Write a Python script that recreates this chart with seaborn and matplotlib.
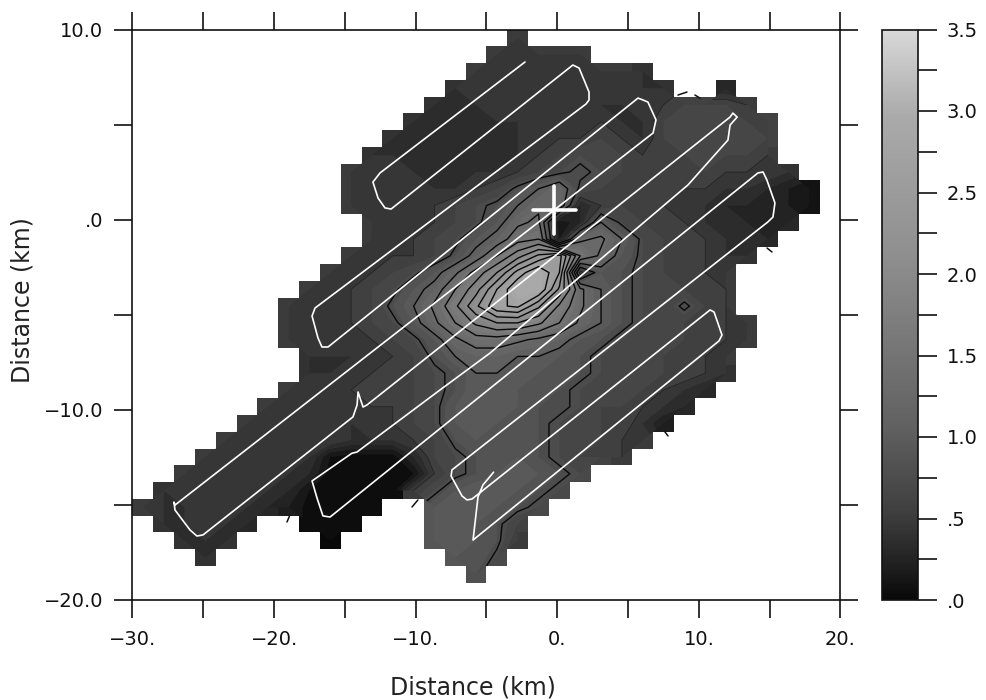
import numpy as np
import pandas as pd
import seaborn as sns
import matplotlib
matplotlib.use("Agg")
import matplotlib.pyplot as plt
from matplotlib.colors import LinearSegmentedColormap

N = None
# start column of each row of the 34 x 34 grid (row 0 at the top)
row_starts = [18, 17, 16, 15, 14, 13, 12, 11, 10, 10, 10, 11, 11, 10, 9, 8, 7, 7, 7, 8, 8, 7, 6, 5, 4, 3, 2, 1, 0, 1, 2, 3, 16]
r00 = [.5]
r01 = [.5, .5, .5, .5, .5]
r02 = [.5, .5, .5, .5, .5, .5, .5, .5, .4]
r03 = [.4, .5, .5, .5, .5, .5, .5, .5, .5, .4, .4, N, N, .3]
r04 = [.4, .4, .4, .5, .5, .5, .5, .4, .4, .4, .5, .5, .6, .6, .6, .5]
r05 = [.4, .4, .4, .4, .4, .4, .5, .5, .5, .5, .4, .4, .6, .7, .7, .7, .6, .6]
r06 = [.4, .4, .4, .4, .4, .4, .4, .5, .5, .5, .6, .5, .4, .6, .7, .7, .7, .7, .6]
r07 = [.4, .4, .4, .4, .4, .4, .4, .4, .5, .6, .7, .7, .6, .5, .6, .6, .7, .6, .6, .5]
r08 = [.5, .5, .5, .4, .4, .4, .4, .4, .5, .6, .7, .8, .7, .6, .6, .6, .6, .6, .5, .5, .5, .4]
r09 = [.5, .5, .5, .5, .4, .4, .5, .6, .8, 1.0, 1.2, .7, .6, .6, .6, .6, .5, .5, .4, .4, .3, .2, .1]
r10 = [.5, .5, .5, .5, .5, .6, .7, .8, 1.0, 1.2, 1.2, .3, .5, .6, .6, .5, .5, .4, .3, .3, .3, .2, .1]
r11 = [.5, .5, .5, .5, .6, .7, .9, 1.2, 1.3, .1, .3, 1.0, .7, .6, .6, .5, .4, .4, .3, .3, .3]
r12 = [.5, .5, .5, .6, .7, .9, 1.1, 1.4, 1.5, .2, 1.2, 1.3, 1.0, .7, .6, .6, .5, .4, .4, .3]
r13 = [.5, .5, .5, .5, .6, .8, 1.1, 1.5, 1.9, 2.3, 2.6, 1.5, 1.2, .9, .7, .6, .6, .5, .4, .4]
r14 = [.5, .5, .5, .6, .7, .9, 1.2, 1.6, 2.0, 2.6, 3.0, 2.5, .4, .9, .8, .7, .6, .6, .5, .5]
r15 = [.5, .5, .5, .6, .7, .9, 1.1, 1.5, 1.9, 2.5, 3.0, 3.0, 2.2, 1.3, 1.0, .8, .7, .7, .6, .6, .5]
r16 = [.5, .5, .5, .5, .6, .8, 1.0, 1.3, 1.7, 2.2, 2.7, 2.8, 2.3, 1.7, 1.3, 1.0, .8, .7, .6, .8, .6, .5]
r17 = [.5, .5, .5, .5, .6, .7, .9, 1.2, 1.5, 1.8, 2.0, 2.0, 1.8, 1.5, 1.2, 1.0, .8, .7, .7, .6, .6, .5, .5]
r18 = [.5, .5, .5, .5, .5, .6, .7, .9, 1.2, 1.4, 1.4, 1.3, 1.2, 1.1, .9, .8, .7, .7, .7, .6, .6, .5, .5]
r19 = [.4, .4, .4, .5, .5, .6, .8, 1.0, 1.1, 1.1, 1.0, 1.0, .9, .8, .7, .7, .7, .6, .6, .5, .5]
r20 = [.4, .4, .5, .5, .6, .6, .7, .8, 1.0, 1.0, 1.0, .9, .9, .8, .7, .7, .7, .6, .6, .5, .4]
r21 = [.5, .5, .5, .5, .6, .6, .6, .7, .8, 1.0, 1.0, .9, .9, .8, .7, .7, .7, .6, .5, .4, .3]
r22 = [.5, .5, .5, .5, .5, .5, .5, .6, .7, .9, 1.0, 1.0, .9, .8, .8, .7, .6, .6, .5, .4, .3]
r23 = [.5, .5, .5, .5, .5, .4, .5, .5, .6, .7, .9, 1.0, .9, .9, .8, .7, .7, .6, .6, .4, .2]
r24 = [.5, .5, .5, .5, .5, .5, .4, .4, .4, .5, .6, .8, .9, .9, .9, .8, .7, .7, .6, .5, .5]
r25 = [.5, .5, .5, .5, .5, .4, .1, .05, .05, .05, .3, .6, .7, .8, .9, .9, .8, .7, .6, .6, .5]
r26 = [.5, .5, .5, .5, .5, .4, .3, .05, .0, .0, .0, .1, .5, .7, .8, .9, 1.0, .9, .8, .7]
r27 = [.4, .5, .5, .5, .5, .4, .3, .1, .0, .0, .0, .05, .5, .7, .9, 1.0, 1.0, .9, .8, .7]
r28 = [.5, .4, .4, .5, .5, .4, .3, .2, .05, .0, .0, .05, N, N, .9, 1.0, 1.0, .9, .8, .7]
r29 = [.4, .4, .5, .4, .3, N, N, .05, .05, .05, N, N, N, .9, 1.0, .9, .8, .6]
r30 = [.4, .4, .4, N, N, N, N, .0, N, N, N, N, .9, 1.0, .9, .8, .5]
r31 = [.4, N, N, N, N, N, N, N, N, N, N, N, .9, .9, .7]
r32 = [.8]
rows = [r00, r01, r02, r03, r04, r05, r06, r07, r08, r09, r10, r11, r12, r13, r14, r15, r16,
        r17, r18, r19, r20, r21, r22, r23, r24, r25, r26, r27, r28, r29, r30, r31, r32]

# flight track, km
track_x = [-2.28, -12.52, -13.02, -12.66, -12.17, -11.74, 1.1, 1.54, 2.24, 2.24, 2.03, -17.11, -17.32, -16.9,
           -16.62, -16.19, 5.7, 6.05, 6.4, 6.97, 6.76, -27.0, -27.07, -27.0, -25.94, -25.45, -25.02, -14.43,
           -14.14, -14.07, -13.72, -13.44, 12.2, 12.4, 12.7, 12.2, 12.05, 9.23, -4.75, -8.28, -14.15, -14.5,
           -17.32, -16.97, -16.55, -16.05, 14.17, 14.53, 14.8, 15.37, 15.23, 14.87, -7.44, -7.5, -6.73, -6.38,
           -6.02, 10.79, 11.07, 11.63, 11.42, -5.95, -5.6, -5.25, -4.5]
track_y = [8.29, 2.45, 1.97, 1.13, .61, .55, 8.13, 7.97, 6.71, 6.29, 6.08, -4.66, -5.08, -6.24,
           -6.71, -6.71, 6.39, 6.29, 6.18, 5.24, 4.55, -15.03, -14.87, -15.29, -16.34, -16.66, -16.6, -10.39,
           -9.76, -9.08, -9.87, -9.76, 5.39, 5.6, 5.39, 4.97, 4.18, 1.82, -7.03, -8.97, -12.24, -12.3,
           -13.76, -14.66, -15.6, -15.66, 2.45, 2.5, 2.08, .87, .13, -.13, -13.18, -13.5, -14.55, -14.76,
           -14.71, -4.76, -4.87, -6.08, -6.39, -16.87, -14.6, -13.97, -13.3]
cross_x, cross_y = -0.2, 0.5
# short contour ends that stick out of the shaded area, km
stub_x = [(8.52, 9.16), (9.72, 10.08), (14.81, 15.16), (-19.09, -18.88), (-10.26, -9.84), (7.6, 7.82)]
stub_y = [(6.55, 6.71), (6.55, 6.39), (-1.5, -1.71), (-15.92, -15.55), (-15.13, -14.76), (-11.18, -11.39)]

x_ticks = [-30, -25, -20, -15, -10, -5, 0, 5, 10, 15, 20]
x_labels = ["\u221230.", "", "\u221220.", "", "\u221210.", "", "0.", "", "10.", "", "20."]
y_ticks = [10, 5, 0, -5, -10, -15, -20]
y_labels = ["10.0", "", ".0", "", "\u221210.0", "", "\u221220.0"]
cbar_ticks = [0, .25, .5, .75, 1, 1.25, 1.5, 1.75, 2, 2.25, 2.5, 2.75, 3, 3.25, 3.5]
cbar_labels = [".0", "", ".5", "", "1.0", "", "1.5", "", "2.0", "", "2.5", "", "3.0", "", "3.5"]

NC = 34
grid = np.full((NC, NC), np.nan)
for r, (s, vals) in enumerate(zip(row_starts, rows)):
    for i, v in enumerate(vals):
        if v is not None:
            grid[r, s + i] = v
df = pd.DataFrame(grid)

def col(x):
    return (np.asarray(x, float) + 30) / 50 * NC
def row(y):
    return (10 - np.asarray(y, float)) / 30 * NC

W, H = 987, 700
cmap = LinearSegmentedColormap.from_list("ht", [(0, "#080808"), (.05, "#1c1c1c"), (.15, "#3e3e3e"),
                                                (.3, "#606060"), (.6, "#8e8e8e"), (.85, "#aaaaaa"), (1, "#d8d8d8")])
sns.set_theme(style="white")
plt.rcParams["font.family"] = ["DejaVu Sans"]
fig = plt.figure(figsize=(W / 100, H / 100), dpi=100)
ax = fig.add_axes([132.5 / W, 1 - 599.5 / H, 708 / W, 570 / H])
cax = fig.add_axes([882 / W, 1 - 600 / H, 36 / W, 570.5 / H])

sns.heatmap(df, ax=ax, cbar_ax=cax, cmap=cmap, vmin=0, vmax=3.5, mask=df.isna(),
            xticklabels=False, yticklabels=False, linewidths=0, rasterized=True)
ax.set_xlim(0, NC)
ax.set_ylim(NC, 0)

cx = np.arange(NC) + .5
masked = np.ma.masked_invalid(grid)
ax.contourf(cx, cx, masked, levels=np.linspace(0, 3.5, 36), cmap=cmap, vmin=0, vmax=3.5, antialiased=True)
ax.contour(cx, cx, masked, levels=[.5], colors="#0a0a0a", linewidths=.5, alpha=.55)
ax.contour(cx, cx, masked, levels=np.arange(.75, 3.25, .25), colors="#0a0a0a", linewidths=1.0)

for sx, sy in zip(stub_x, stub_y):
    ax.plot(col(sx), row(sy), color="#111111", lw=1.1, clip_on=False)
ax.plot(col(track_x), row(track_y), color="white", lw=1.2, solid_joinstyle="round")
ax.plot(col([cross_x - 1.55, cross_x + 1.55]), row([cross_y, cross_y]), color="white", lw=2.6)
ax.plot(col([cross_x, cross_x]), row([cross_y - 1.25, cross_y + 1.25]), color="white", lw=2.6)

for s in ax.spines.values():
    s.set_visible(True)
    s.set_color("#111111")
    s.set_linewidth(1.2)
ax.set_xticks(col(x_ticks))
ax.set_xticklabels(x_labels, fontsize=14, color="#111111")
ax.set_yticks(row(y_ticks))
ax.set_yticklabels(y_labels, fontsize=14, color="#111111", rotation=0)
ax.tick_params(axis="both", which="major", direction="out", length=13, width=1.2, color="#111111",
               top=True, bottom=True, left=True, right=True, labelbottom=True, labelleft=True, labeltop=False, labelright=False)
ax.tick_params(axis="x", pad=9)
ax.tick_params(axis="y", pad=8)
ax.set_xlabel("")
ax.set_ylabel("")
fig.text(473 / W, 1 - 687 / H, "Distance (km)", ha="center", va="center", fontsize=17, color="#222222")
fig.text(23 / W, 1 - 300 / H, "Distance (km)", ha="center", va="center", rotation=90, fontsize=17, color="#222222")

cb = ax.collections[0].colorbar
cb.set_ticks(cbar_ticks)
cb.set_ticklabels(cbar_labels)
cb.minorticks_off()
cax.tick_params(direction="out", length=13.5, width=1.2, color="#111111", labelsize=14, labelcolor="#111111", pad=7, right=True)
cb.outline.set_visible(True)
cb.outline.set_edgecolor("#111111")
cb.outline.set_linewidth(1.2)

fig.savefig("out.png", dpi=100)
